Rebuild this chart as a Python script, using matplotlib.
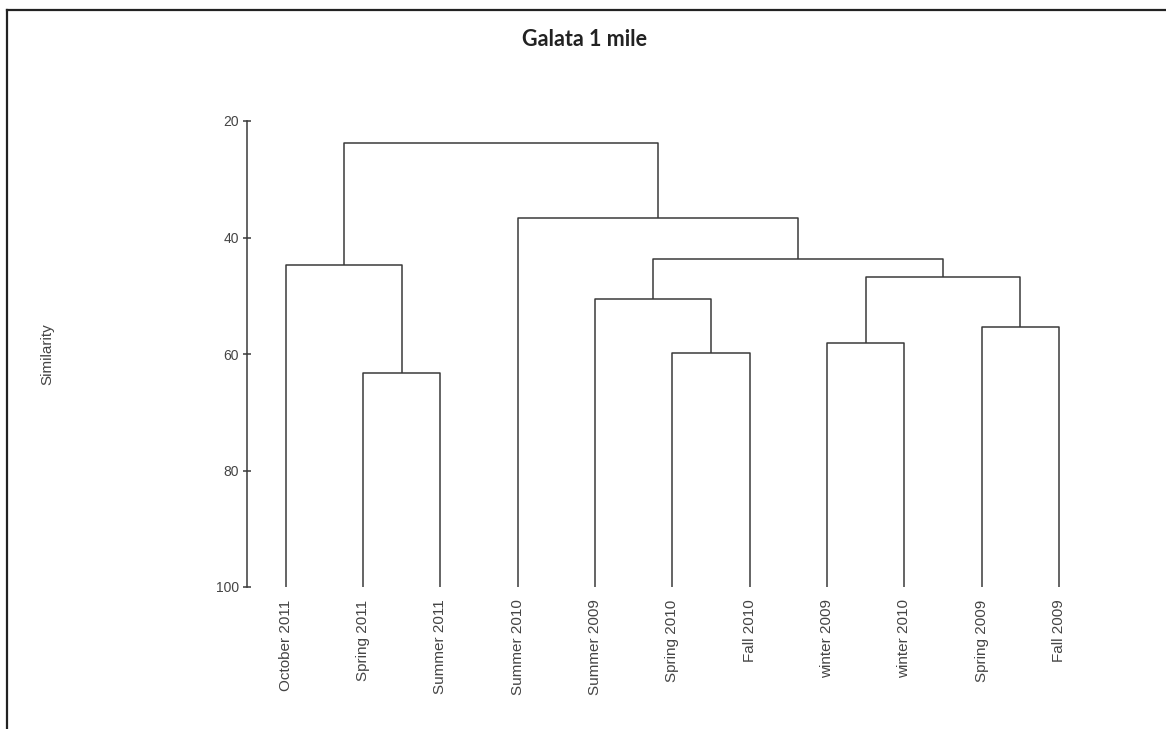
"""Dendrogram of Galata 1 mile sampling seasons by similarity."""

import matplotlib
matplotlib.use('Agg')
import matplotlib.pyplot as plt
from matplotlib.lines import Line2D


LEAVES = [
    'October 2011', 'Spring 2011', 'Summer 2011', 'Summer 2010',
    'Summer 2009', 'Spring 2010', 'Fall 2010', 'winter 2009',
    'winter 2010', 'Spring 2009', 'Fall 2009',
]
# each merge joins two clusters (leaf index or earlier merge id = 11 + k)
MERGE_LEFT = [1, 0, 5, 7, 9, 4, 14, 16, 3, 12]
MERGE_RIGHT = [2, 11, 6, 8, 10, 13, 15, 17, 18, 19]
MERGE_SIMILARITY = [63.2, 44.7, 59.8, 58.1, 55.4, 50.5, 46.8, 43.7, 36.6, 23.8]
Y_TICKS = [20, 40, 60, 80, 100]

LINE_COLOR = '#3a3a3a'
TEXT_COLOR = '#444444'


def draw_dendrogram(ax):
    """Draw the tree as connected U-shaped links."""
    xs = {i: float(i + 1) for i in range(len(LEAVES))}
    ys = {i: 100.0 for i in range(len(LEAVES))}
    for k, (left, right, height) in enumerate(
            zip(MERGE_LEFT, MERGE_RIGHT, MERGE_SIMILARITY)):
        x0, x1 = xs[left], xs[right]
        ax.plot([x0, x0, x1, x1], [ys[left], height, height, ys[right]],
                color=LINE_COLOR, linewidth=1.1, solid_capstyle='butt')
        node = len(LEAVES) + k
        xs[node] = (x0 + x1) / 2
        ys[node] = height


fig = plt.figure(figsize=(11.66, 7.29), dpi=100)
ax = fig.add_axes([247 / 1166, 1 - 587 / 729, 850.6 / 1166, 466 / 729])

draw_dendrogram(ax)

ax.set_xlim(0.5, 11.5)
ax.set_ylim(100, 20)
ax.set_yticks(Y_TICKS)
ax.set_yticklabels([str(v) for v in Y_TICKS], fontfamily='Liberation Sans',
                   fontsize=10, color=TEXT_COLOR)
ax.set_xticks(range(1, len(LEAVES) + 1))
ax.set_xticklabels(LEAVES, rotation=90, fontfamily='Liberation Sans',
                   fontsize=11, color=TEXT_COLOR)
ax.tick_params(axis='x', length=0, pad=9)
ax.tick_params(axis='y', direction='inout', length=6, width=1.1,
               color=LINE_COLOR, pad=3)

for side in ('top', 'right', 'bottom'):
    ax.spines[side].set_visible(False)
ax.spines['left'].set_color(LINE_COLOR)
ax.spines['left'].set_linewidth(1.1)
ax.spines['left'].set_bounds(20, 100)

ax.set_ylabel('Similarity', fontfamily='Liberation Sans', fontsize=11,
              color=TEXT_COLOR)
ax.yaxis.set_label_coords(-0.227, 0.5)

fig.text(0.501, 1 - 40 / 729, 'Galata 1 mile', ha='center', va='center',
         fontfamily='Lato', fontweight='bold', fontsize=15.5, color='#222222')

# outer frame (left and top edges only)
fig.add_artist(Line2D([7 / 1166, 7 / 1166], [0, 1 - 10 / 729],
                      transform=fig.transFigure, color='#222222',
                      linewidth=1.6))
fig.add_artist(Line2D([7 / 1166, 1], [1 - 10 / 729, 1 - 10 / 729],
                      transform=fig.transFigure, color='#222222',
                      linewidth=1.6))

fig.savefig('out.png', dpi=100)
